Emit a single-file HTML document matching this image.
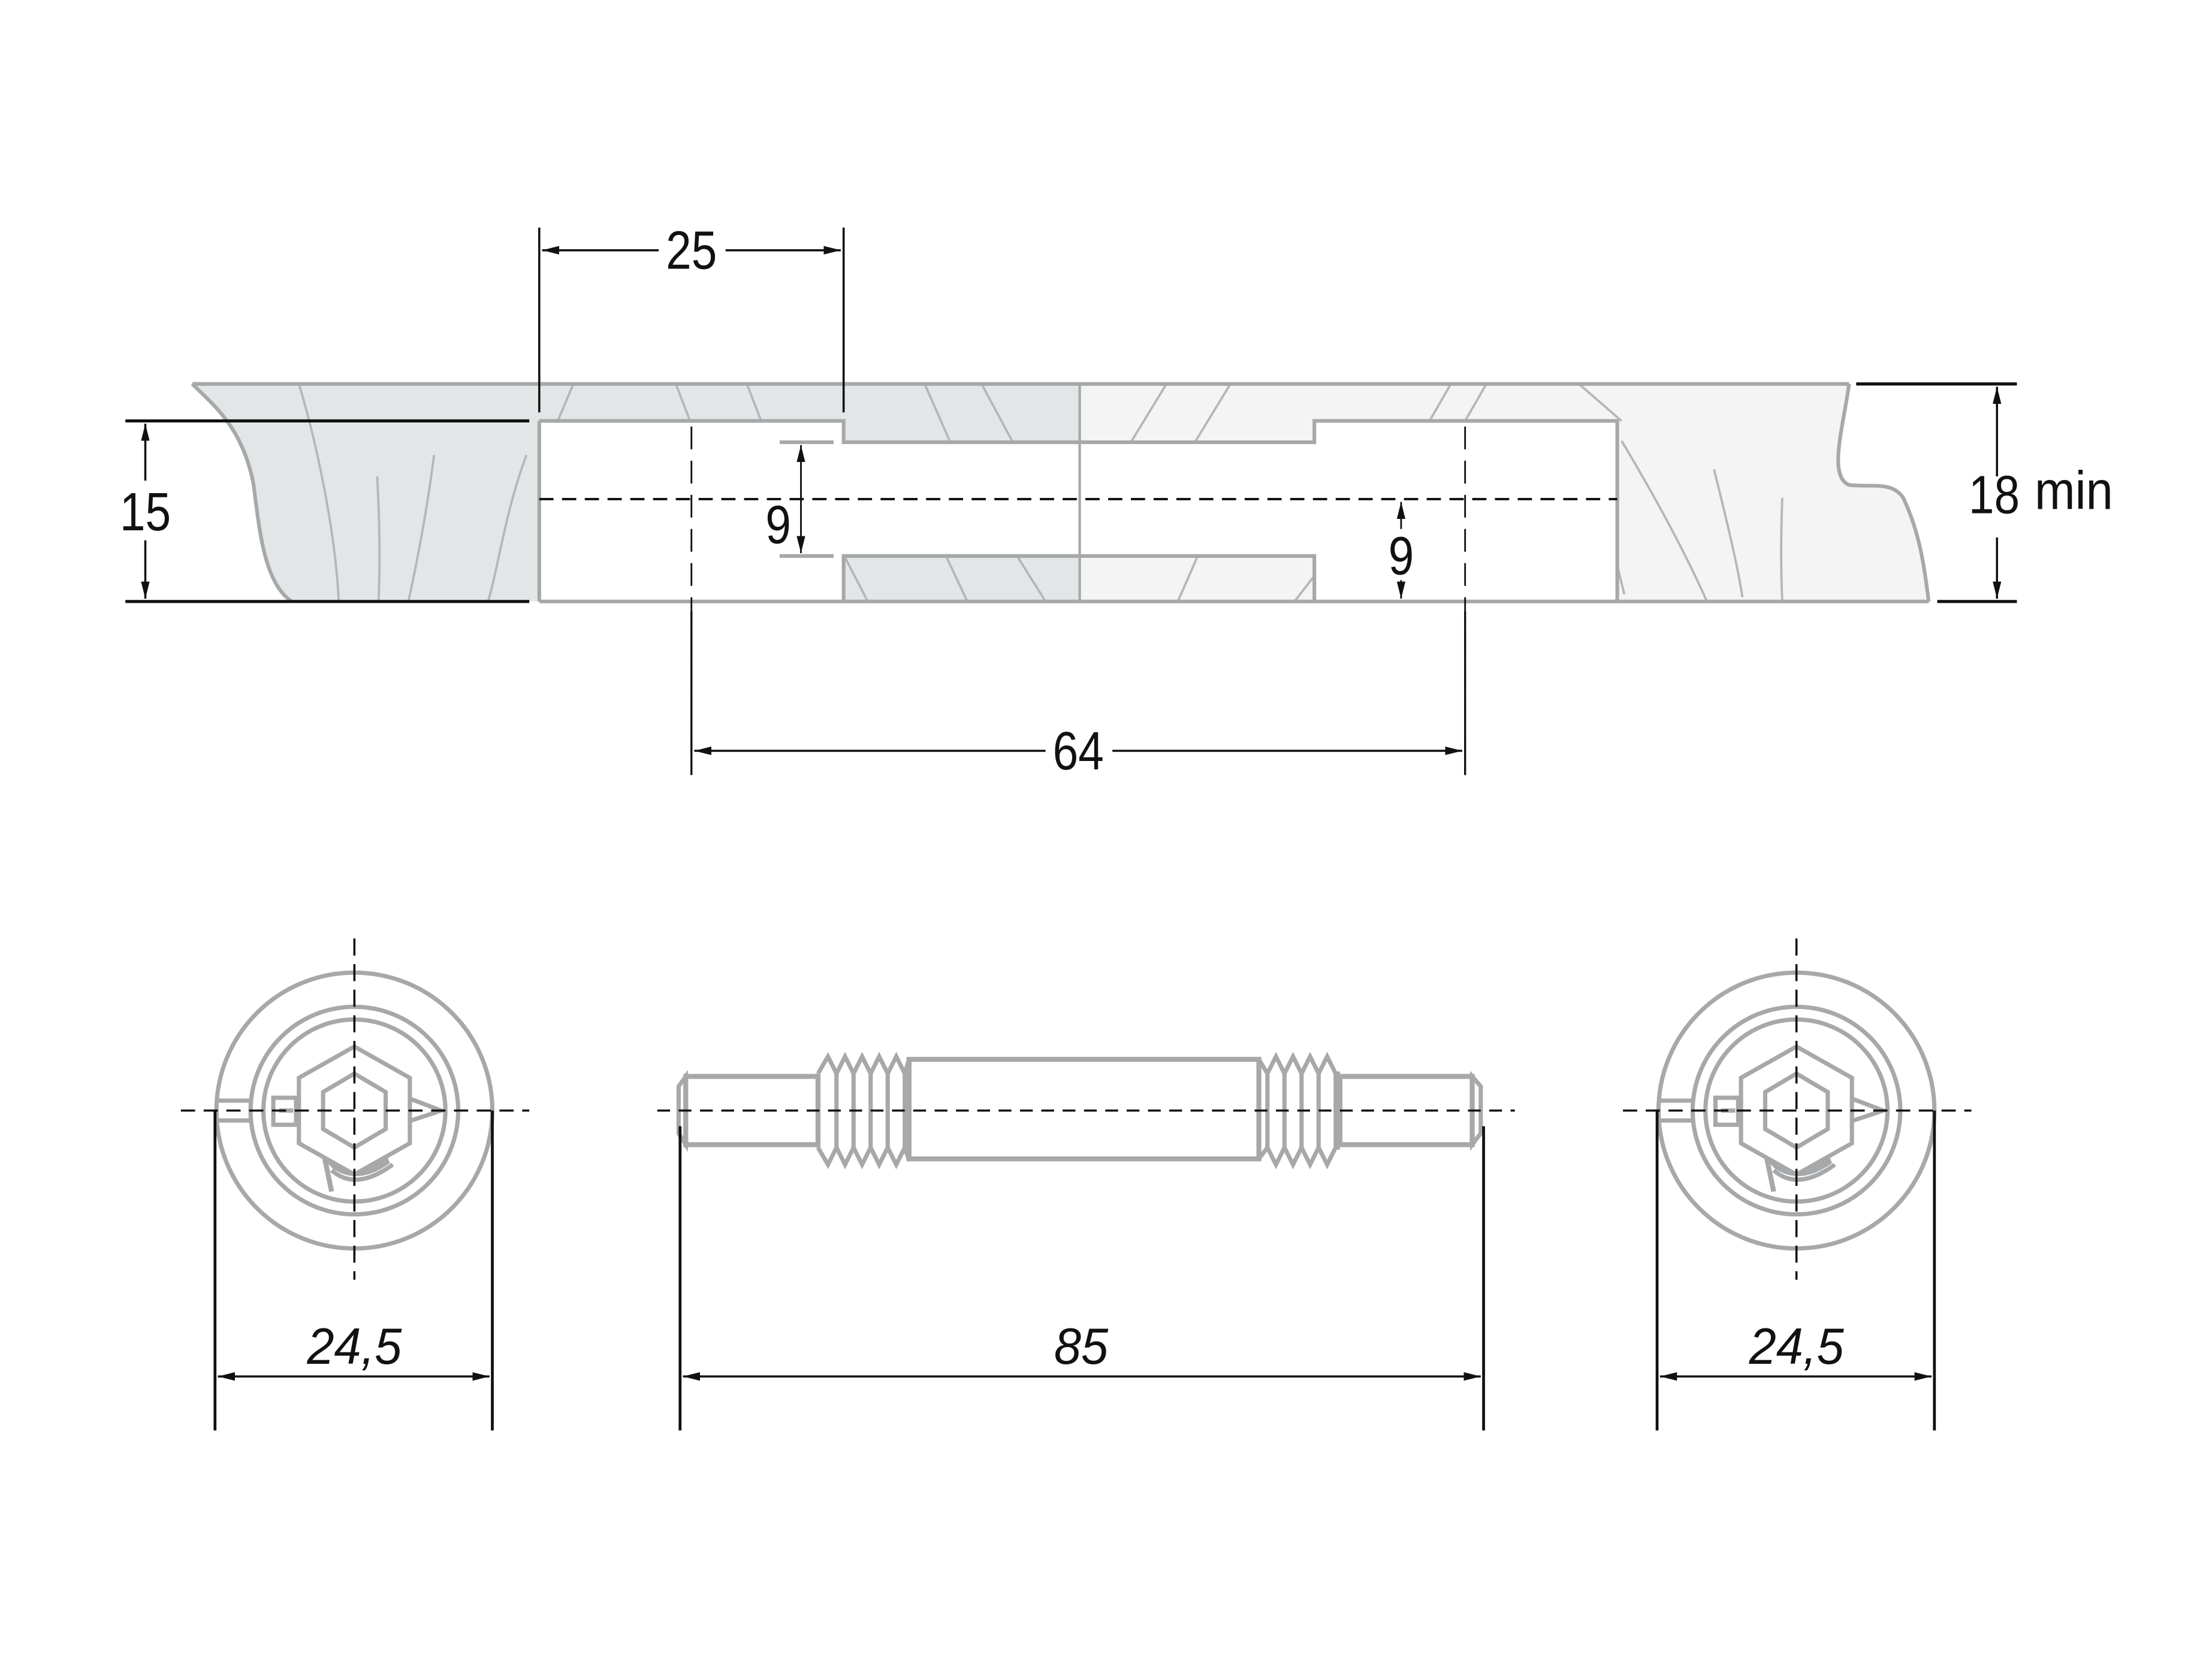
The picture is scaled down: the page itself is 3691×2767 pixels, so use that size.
<!DOCTYPE html>
<html><head><meta charset="utf-8"><style>html,body{margin:0;padding:0;background:#fff}svg{display:block}</style></head>
<body>
<svg width="3691" height="2767" viewBox="0 0 1555 1166" xmlns="http://www.w3.org/2000/svg">
<defs>
<marker id="a" viewBox="0 0 12 6" refX="12" refY="3" markerWidth="12" markerHeight="6" orient="auto-start-reverse" markerUnits="userSpaceOnUse"><path d="M0,0 L12,3 L0,6 Z" fill="#111"/></marker>
</defs>
<g font-family="Liberation Sans, sans-serif" fill="#111">
<path d="M135,270 L759,270 L759,423 L205,423 C185,410 182,370 178,340 C170,300 150,285 135,270 Z" fill="#e3e6e7"/>
<path d="M759,270 L1300,270 C1296,300 1285,335 1300,341 C1315,343 1330,338 1338,350 C1350,375 1353,400 1356,423 L759,423 Z" fill="#f4f4f4"/>
<rect x="379" y="296" width="214" height="127" fill="#fff"/>
<rect x="593" y="311" width="331" height="80" fill="#fff"/>
<rect x="924" y="296" width="213" height="127" fill="#fff"/>
<g stroke="#b4b7b9" stroke-width="1.6" fill="none">
<path d="M210,270 C225,320 236,380 238,423"/><path d="M265,335 C267,370 267,400 266,423"/><path d="M305,320 C300,360 292,400 287,423"/><path d="M370,320 C355,360 350,400 343,423"/>
<path d="M403,270 L392,296"/><path d="M475,270 L485,296"/><path d="M525,270 L535,296"/><path d="M650,270 L668,311"/><path d="M690,270 L712,311"/>
<path d="M594,392 L610,423"/><path d="M665,391 L680,423"/><path d="M715,391 L735,423"/>
<path d="M820,270 L795,311"/><path d="M865,270 L840,311"/><path d="M1020,270 L1005,296"/><path d="M1045,270 L1030,296"/><path d="M1110,270 L1140,296"/>
<path d="M842,391 L828,423"/><path d="M924,405 L910,423"/>
<path d="M1140,310 C1170,360 1190,400 1200,423"/><path d="M1205,330 C1215,370 1222,400 1225,420"/><path d="M1253,350 C1252,380 1252,400 1253,423"/>
<path d="M1137,398 L1142,418"/>
</g>
<g stroke="#a6a8aa" stroke-width="2.6" fill="none">
<path d="M135,270 L1300,270"/>
<path d="M135,270 C150,285 170,300 178,340 C182,370 185,410 205,423"/>
<path d="M1300,270 C1296,300 1285,335 1300,341 C1315,343 1330,338 1338,350 C1350,375 1353,400 1356,423"/>
<path d="M379,296 L593,296 L593,311 L924,311 L924,296 L1137,296 L1137,423"/>
<path d="M379,296 L379,423"/>
<path d="M593,423 L593,391 L924,391 L924,423"/>
<path d="M379,423 L1356,423"/>
<path d="M759,270 L759,423" stroke-width="1.8"/>
<path d="M548,311 L586,311 M548,391 L586,391" stroke-width="2.6"/>
</g>
<g stroke="#111" stroke-width="1.6" fill="none">
<path d="M379,351 L1137,351" stroke-dasharray="10,6"/>
<path d="M486,300 L486,545 M1030,300 L1030,545" stroke-dasharray="16,8" stroke-width="1.2"/>
</g>
<g stroke="#111" stroke-width="1.5" fill="none">
<path d="M379,160 L379,290 M593,160 L593,290"/>
<path d="M381,176 L463,176" marker-start="url(#a)"/><path d="M510,176 L591,176" marker-end="url(#a)"/>
<path d="M88,296 L372,296 M88,423 L372,423" stroke-width="2.2"/>
<path d="M102,298 L102,338" marker-start="url(#a)"/><path d="M102,380 L102,421" marker-end="url(#a)"/>
<path d="M1305,270 L1418,270 M1362,423 L1418,423" stroke-width="2.2"/>
<path d="M1404,272 L1404,335" marker-start="url(#a)"/><path d="M1404,378 L1404,421" marker-end="url(#a)"/>
<path d="M563,313 L563,389" marker-start="url(#a)" marker-end="url(#a)" stroke-width="1.2"/>
<path d="M985,353 L985,372" marker-start="url(#a)" stroke-width="1.2"/><path d="M985,408 L985,421" marker-end="url(#a)" stroke-width="1.2"/>
<path d="M486,430 L486,545 M1030,430 L1030,545" stroke-width="1.4"/>
<path d="M488,528 L735,528" marker-start="url(#a)"/><path d="M782,528 L1028,528" marker-end="url(#a)"/>
</g>
<g font-size="38">
<text transform="translate(486,189) scale(0.85,1)" text-anchor="middle">25</text>
<text transform="translate(102,373) scale(0.85,1)" text-anchor="middle">15</text>
<text transform="translate(1402,361) scale(0.85,1)" text-anchor="middle">18</text>
<text transform="translate(1458,358) scale(0.9,1)" text-anchor="middle">min</text>
<text transform="translate(547,382) scale(0.85,1)" text-anchor="middle">9</text>
<text transform="translate(985,404) scale(0.85,1)" text-anchor="middle">9</text>
<text transform="translate(758,541) scale(0.85,1)" text-anchor="middle">64</text>
</g>
<g id="c">
<g stroke="#a6a8aa" stroke-width="3" fill="none">
<circle cx="249" cy="781" r="97"/>
<circle cx="249" cy="781" r="73"/>
<circle cx="249" cy="781" r="64"/>
<path d="M249,736 L288,758 L288,804 L249,826 L210,804 L210,758 Z" fill="#fff"/>
<path d="M249,755 L271,768 L271,794 L249,807 L227,794 L227,768 Z"/>
<path d="M153,774 L176,774 M153,788 L176,788"/>
<rect x="192" y="772" width="16" height="19"/>
<path d="M196,781 L206,781"/>
<path d="M289,773 L310,781 L289,788"/>
<path d="M233,823 Q250,838 276,819"/>
<path d="M228,814 L233,838" stroke-width="3.5"/>
</g>
<path d="M226,814 L249,826 L272,813 L274,818 Q252,834 234,822 Z" fill="#a6a8aa"/>
<g stroke="#111" stroke-width="1.5" fill="none">
<path d="M127,781 L372,781" stroke-dasharray="10,6"/>
<path d="M249,660 L249,900" stroke-dasharray="12,6"/>
<path d="M151,781 L151,1006 M346,781 L346,1006" stroke-width="2"/>
<path d="M153,968 L344,968" marker-start="url(#a)" marker-end="url(#a)"/>
</g>
<text transform="translate(249,959) scale(0.95,1)" text-anchor="middle" font-size="36" font-style="italic">24,5</text>
</g>
<use href="#c" transform="translate(1014,0)"/>
<g stroke="#a6a8aa" stroke-width="3" fill="none">
<path d="M482,757 L477,764 L477,797 L482,805 Z"/>
<rect x="482" y="757" width="93" height="48" stroke-width="3.5"/>
<path d="M575,755 L582,743 L588,755 L594,743 L600,755 L606,743 L612,755 L618,743 L624,755 L630,743 L636,755 L639,745"/>
<path d="M575,807 L582,819 L588,807 L594,819 L600,807 L606,819 L612,807 L618,819 L624,807 L630,819 L636,807 L639,816"/>
<path d="M575,755 L575,807 M588,755 L588,807 M600,755 L600,807 M612,755 L612,807 M624,755 L624,807 M636,755 L636,807"/>
<rect x="639" y="745" width="246" height="70" stroke-width="3.5"/>
<path d="M885,745 L891,755 L897,743 L903,755 L909,743 L915,755 L921,743 L927,755 L933,743 L939,755 L942,755"/>
<path d="M885,815 L891,807 L897,819 L903,807 L909,819 L915,807 L921,819 L927,807 L933,819 L939,807 L942,807"/>
<path d="M891,755 L891,807 M903,755 L903,807 M915,755 L915,807 M927,755 L927,807 M939,755 L939,807"/>
<rect x="942" y="757" width="93" height="48" stroke-width="3.5"/>
<path d="M1035,757 L1041,764 L1041,797 L1035,805 Z"/>
</g>
<g stroke="#111" stroke-width="1.5" fill="none">
<path d="M462,781 L1065,781" stroke-dasharray="9,6"/>
<path d="M478,792 L478,1006 M1043,792 L1043,1006" stroke-width="2"/>
<path d="M480,968 L1041,968" marker-start="url(#a)" marker-end="url(#a)"/>
</g>
<text transform="translate(760,959) scale(0.95,1)" text-anchor="middle" font-size="36" font-style="italic">85</text>
</g>
</svg>
</body></html>
